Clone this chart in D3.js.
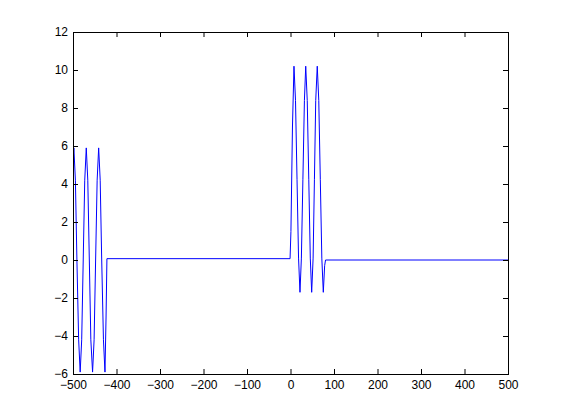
<!DOCTYPE html>
<html>
<head>
<meta charset="utf-8">
<script src="https://cdn.jsdelivr.net/npm/d3@7"></script>
<style>
  html, body { margin: 0; padding: 0; background: #fff; }
  svg { display: block; }
  .tick text { font-family: "Liberation Sans", Arial, sans-serif; font-size: 12px; fill: #000; }
</style>
</head>
<body>
<svg id="chart" width="561" height="420"></svg>
<script>
// Signal samples
const xValues = [
  -500, -498, -494.5, -491, -487, -483.5,
  -480, -476.5, -473, -469.5,
  -466, -462.5, -459, -455,
  -451.5, -448, -444.5, -441,
  -437.5, -434, -430, -426.5,
  -424, -422,
  -1, 1, 4.5, 8,
  11.5, 15, 18.5, 21.8,
  25, 28.5, 32, 35,
  38.5, 42, 45.5, 48.7,
  52, 55, 58, 61.5,
  65, 68.5, 72, 75.4,
  78.5, 80.5, 500
];
const yValues = [
  5.2, 5.9, 4.2, 0, -4.2, -5.9,
  -4.2, 0, 4.2, 5.9,
  4.2, 0, -4.2, -5.9,
  -4.2, 0, 4.2, 5.9,
  4.2, 0, -4.2, -5.9,
  -3, 0.07,
  0.07, 1.5, 7, 10.2,
  8.4, 4.25, 0.1, -1.7,
  0.1, 4.25, 8.4, 10.2,
  8.4, 4.25, 0.1, -1.7,
  0.1, 4.25, 8.4, 10.2,
  8.4, 4.25, 0.1, -1.7,
  -0.3, 0.0, 0.0
];
const xTicks = [-500, -400, -300, -200, -100, 0, 100, 200, 300, 400, 500];
const yTicks = [-6, -4, -2, 0, 2, 4, 6, 8, 10, 12];

const pLeft = 73, pRight = 508, pTop = 32, pBottom = 374;
const svg = d3.select("#chart");

const x = d3.scaleLinear().domain([-500, 500]).range([pLeft, pRight]);
const y = d3.scaleLinear().domain([-6, 12]).range([pBottom, pTop]);

const data = xValues.map((v, i) => [v, yValues[i]]);

svg.append("defs").append("clipPath").attr("id", "clip")
  .append("rect").attr("x", pLeft).attr("y", pTop).attr("width", pRight - pLeft).attr("height", pBottom - pTop);

svg.append("path")
  .datum(data)
  .attr("clip-path", "url(#clip)")
  .attr("fill", "none")
  .attr("stroke", "#0000ff")
  .attr("stroke-width", 1)
  .attr("d", d3.line().x(d => x(d[0])).y(d => y(d[1])));

const tl = 5;
svg.append("g").attr("transform", `translate(0,${pBottom})`)
  .call(d3.axisBottom(x).tickValues(xTicks).tickSizeInner(-tl).tickSizeOuter(0).tickPadding(6).tickFormat(d3.format("d")))
  .call(g => g.select(".domain").remove())
  .call(g => g.selectAll(".tick line").attr("stroke", "#000"));
svg.append("g").attr("transform", `translate(0,${pTop})`)
  .call(d3.axisTop(x).tickValues(xTicks).tickSizeInner(-tl).tickSizeOuter(0).tickFormat(""))
  .call(g => g.select(".domain").remove())
  .call(g => g.selectAll(".tick line").attr("stroke", "#000"));
svg.append("g").attr("transform", `translate(${pLeft},0)`)
  .call(d3.axisLeft(y).tickValues(yTicks).tickSizeInner(-tl).tickSizeOuter(0).tickPadding(5).tickFormat(d3.format("d")))
  .call(g => g.select(".domain").remove())
  .call(g => g.selectAll(".tick line").attr("stroke", "#000"));
svg.append("g").attr("transform", `translate(${pRight},0)`)
  .call(d3.axisRight(y).tickValues(yTicks).tickSizeInner(-tl).tickSizeOuter(0).tickFormat(""))
  .call(g => g.select(".domain").remove())
  .call(g => g.selectAll(".tick line").attr("stroke", "#000"));

svg.append("rect")
  .attr("x", pLeft + 0.5).attr("y", pTop + 0.5)
  .attr("width", pRight - pLeft).attr("height", pBottom - pTop)
  .attr("fill", "none").attr("stroke", "#000").attr("stroke-width", 1);
</script>
</body>
</html>
